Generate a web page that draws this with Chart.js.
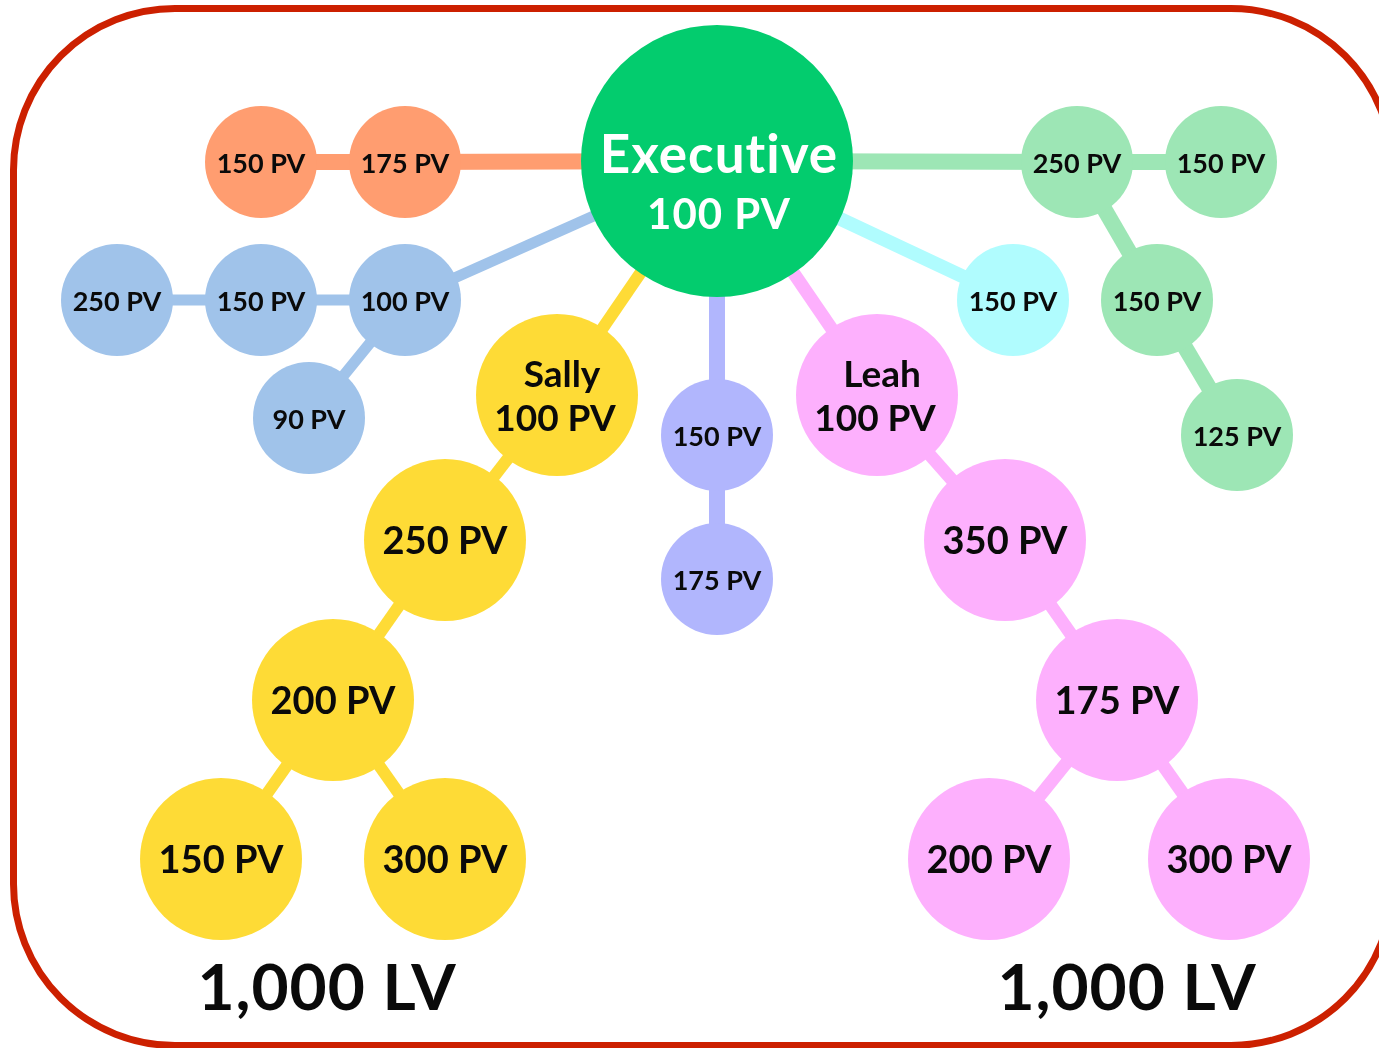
<!DOCTYPE html>
<html>
<head>
<meta charset="utf-8">
<script src="https://cdn.jsdelivr.net/npm/chart.js@4"></script>
<style>
  html, body { margin: 0; padding: 0; background: #fff; overflow: hidden; }
  #wrap { position: relative; width: 1379px; height: 1048px; }
  #frame {
    position: absolute; left: 10px; top: 5px; width: 1386px; height: 1044px;
    box-sizing: border-box; border: 7px solid #cc2000; border-radius: 165px;
  }
  canvas { position: absolute; left: 0; top: 0; }
</style>
</head>
<body>
<div id="wrap">
  <div id="frame"></div>
  <canvas id="tree"></canvas>
</div>
<script>
// nodes of the tree
const nodeNames = ['Executive', '', '', '', '', '', '', 'Sally', '', '', '', '', '', '', 'Leah', '', '', '', '', '', '', '', '', ''];
const nodePV = [100, 175, 150, 100, 150, 250, 90, 100, 250, 200, 150, 300, 150, 175, 100, 350, 175, 200, 300, 150, 250, 150, 150, 125];
const nodeX = [717, 405, 261, 405, 261, 117, 309, 557, 445, 333, 221, 445, 717, 717, 877, 1005, 1117, 989, 1229, 1013, 1077, 1221, 1157, 1237];
const nodeY = [161, 162, 162, 300, 300, 300, 418, 395, 540, 700, 859, 859, 435, 579, 395, 540, 700, 859, 859, 300, 162, 162, 300, 435];
const nodeR = [136, 56, 56, 56, 56, 56, 56, 81, 81, 81, 81, 81, 56, 56, 81, 81, 81, 81, 81, 56, 56, 56, 56, 56];
const nodeGroup = ['exec', 'orange', 'orange', 'blue', 'blue', 'blue', 'blue', 'yellow', 'yellow', 'yellow', 'yellow', 'yellow',
  'peri', 'peri', 'pink', 'pink', 'pink', 'pink', 'pink', 'cyan', 'green', 'green', 'green', 'green'];

// parent -> child
const links = [[0, 1], [1, 2], [0, 3], [3, 4], [4, 5], [3, 6], [0, 7], [7, 8], [8, 9], [9, 10], [9, 11],
  [0, 12], [12, 13], [0, 14], [14, 15], [15, 16], [16, 17], [16, 18], [0, 19], [0, 20], [20, 21], [20, 22], [22, 23]];

const lvLabels = ['1,000 LV', '1,000 LV'];
const lvX = [327, 1127];
const lvY = [1010, 1010];

const groupColor = {
  exec: '#03cc6e', orange: '#ff9d70', blue: '#a0c3ea', yellow: '#fedb36',
  peri: '#b1b6fd', pink: '#fdb0fd', cyan: '#b0fcfe', green: '#9de6b5'
};
const groupLine = { orange: 16, blue: 11, yellow: 12, peri: 16, pink: 13, cyan: 14, green: 16 };

const FONT = 'Lato, "Open Sans", sans-serif';

const lineSets = links.map(([a, b]) => ({
  type: 'line',
  data: [{ x: nodeX[a], y: nodeY[a] }, { x: nodeX[b], y: nodeY[b] }],
  borderColor: groupColor[nodeGroup[b]],
  borderWidth: groupLine[nodeGroup[b]],
  borderCapStyle: 'butt',
  pointRadius: 0,
  fill: false,
  order: 1,
  clip: false
}));

const bubbleSet = {
  type: 'bubble',
  data: nodeX.map((x, i) => ({ x: x, y: nodeY[i], r: nodeR[i] })),
  backgroundColor: nodeGroup.map(g => groupColor[g]),
  borderWidth: 0,
  order: 0,
  clip: false
};

const labelPlugin = {
  id: 'nodeLabels',
  afterDatasetsDraw(chart) {
    const ctx = chart.ctx;
    const meta = chart.getDatasetMeta(chart.data.datasets.length - 1);
    ctx.save();
    ctx.textAlign = 'center';
    ctx.textBaseline = 'alphabetic';
    meta.data.forEach((pt, i) => {
      const pv = nodePV[i] + ' PV';
      const r = nodeR[i];
      if (i === 0) {
        ctx.fillStyle = '#ffffff';
        ctx.letterSpacing = '1px';   // also stops the "ti" ligature
        ctx.font = 'bold 53px ' + FONT;
        ctx.fillText(nodeNames[i], pt.x + 2, pt.y + 12);
        ctx.font = 'bold 42px ' + FONT;
        ctx.fillText(pv, pt.x + 2, pt.y + 68);
        ctx.letterSpacing = '0px';
        return;
      }
      ctx.fillStyle = '#0a0a0a';
      if (nodeNames[i]) {
        ctx.font = 'bold 37px ' + FONT;
        ctx.fillText(nodeNames[i], pt.x + 5, pt.y - 8);
        ctx.fillText(pv, pt.x - 2, pt.y + 36);
      } else if (r > 70) {
        ctx.font = 'bold 38px ' + FONT;
        ctx.fillText(pv, pt.x, pt.y + 14);
      } else {
        ctx.font = 'bold 27px ' + FONT;
        ctx.fillText(pv, pt.x, pt.y + 11);
      }
    });
    ctx.font = 'bold 64px ' + FONT;
    ctx.letterSpacing = '1px';
    lvLabels.forEach((t, i) => {
      ctx.fillText(t, chart.scales.x.getPixelForValue(lvX[i]), chart.scales.y.getPixelForValue(lvY[i]));
    });
    ctx.restore();
  }
};

const canvas = document.getElementById('tree');
new Chart(canvas.getContext('2d'), {
  data: { datasets: lineSets.concat([bubbleSet]) },
  options: {
    responsive: true,
    maintainAspectRatio: false,
    animation: false,
    events: [],
    layout: { padding: 0, autoPadding: false },
    plugins: { legend: { display: false }, tooltip: { enabled: false } },
    scales: {
      x: { type: 'linear', min: 0, max: 1379, display: false },
      y: { type: 'linear', min: 0, max: 1048, reverse: true, display: false }
    }
  },
  plugins: [labelPlugin]
});
</script>
</body>
</html>
